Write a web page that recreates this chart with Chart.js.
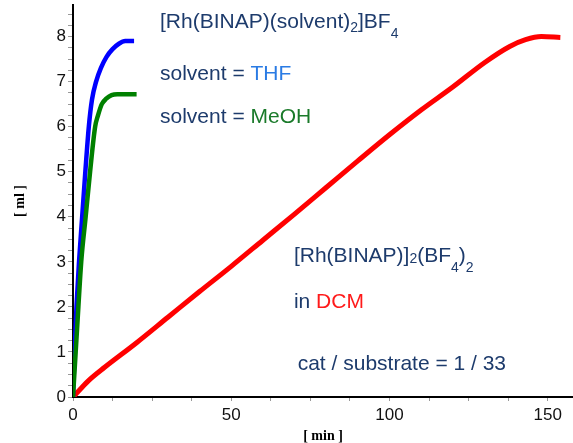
<!DOCTYPE html>
<html>
<head>
<meta charset="utf-8">
<script src="https://cdn.jsdelivr.net/npm/chart.js@4.4.1/dist/chart.umd.min.js"></script>
<style>
  html, body { margin: 0; padding: 0; background: #fff; }
  #wrap { width: 573px; height: 443px; }
</style>
</head>
<body>
<div id="wrap"><canvas id="uptake" width="573" height="443"></canvas></div>
<script>
// H2 uptake curves
const thfTime = [0, 0.5, 1.1, 1.9, 2.9, 3.9, 5.0, 6.0, 7.3, 8.8, 10.6, 12.5, 14.5, 16.5, 19.3];
const thfVol  = [0, 1.0, 2.0, 3.0, 4.0, 5.0, 6.0, 6.6, 7.0, 7.3, 7.55, 7.72, 7.84, 7.9, 7.9];

const meohTime = [0, 0.85, 1.7, 2.6, 4.0, 5.4, 7.0, 7.9, 9.1, 10.5, 12.2, 14.0, 20.1];
const meohVol  = [0, 1.0, 2.0, 3.0, 4.0, 5.0, 6.0, 6.25, 6.5, 6.62, 6.7, 6.72, 6.72];

const dcmTime = [0, 2, 5, 10, 20, 30, 40, 50, 60, 70, 80, 90, 100, 110, 120, 130, 138, 143, 148, 154];
const dcmVol  = [0, 0.15, 0.37, 0.66, 1.2, 1.77, 2.34, 2.9, 3.48, 4.06, 4.65, 5.24, 5.82, 6.37, 6.88, 7.42, 7.78, 7.93, 8.0, 7.98];

const xLabels = [0, 50, 100, 150];
const yLabels = [0, 1, 2, 3, 4, 5, 6, 7, 8];

const NAVY = '#1d3b6c';
const FONT = '"Liberation Sans", Arial, sans-serif';

function toPoints(xs, ys) {
    return xs.map((x, i) => ({ x, y: ys[i] }));
}

// text blocks, anchored in data units (min, ml)
const notes = [
    { x: 27.5, y: 8.18, runs: [
        { t: '[Rh(BINAP)(solvent)', c: NAVY },
        { t: '2', c: NAVY, s: 14, dy: 4 },
        { t: ']BF', c: NAVY },
        { t: '4', c: NAVY, s: 14, dy: 10 }
    ]},
    { x: 27.5, y: 7.04, runs: [{ t: 'solvent = ', c: NAVY }, { t: 'THF', c: '#2a7be4' }] },
    { x: 27.5, y: 6.08, runs: [{ t: 'solvent = ', c: NAVY }, { t: 'MeOH', c: '#1a7a2a' }] },
    { x: 69.8, y: 2.99, runs: [
        { t: '[Rh(BINAP)]', c: NAVY },
        { t: '2', c: NAVY, s: 14, dy: 1 },
        { t: '(BF', c: NAVY },
        { t: '4', c: NAVY, s: 14, dy: 10 },
        { t: ')', c: NAVY },
        { t: '2', c: NAVY, s: 14, dy: 10 }
    ]},
    { x: 69.8, y: 1.97, runs: [{ t: 'in ', c: NAVY }, { t: 'DCM', c: '#ff1a1a' }] },
    { x: 71.0, y: 0.59, runs: [{ t: 'cat / substrate = 1 / 33', c: NAVY }] }
];

const notesPlugin = {
    id: 'notes',
    afterDraw(chart) {
        const ctx = chart.ctx;
        const xs = chart.scales.x, ys = chart.scales.y;
        ctx.save();
        ctx.textBaseline = 'alphabetic';
        ctx.textAlign = 'left';
        notes.forEach(n => {
            let px = xs.getPixelForValue(n.x);
            const py = ys.getPixelForValue(n.y);
            n.runs.forEach(r => {
                ctx.font = `${r.s || 21}px ${FONT}`;
                ctx.fillStyle = r.c;
                ctx.fillText(r.t, px, py + (r.dy || 0));
                px += ctx.measureText(r.t).width;
            });
        });
        ctx.restore();
    }
};

new Chart(document.getElementById('uptake').getContext('2d'), {
    type: 'line',
    data: {
        datasets: [
            { label: 'THF', data: toPoints(thfTime, thfVol), borderColor: '#0000ff', borderWidth: 4.5, order: 1 },
            { label: 'MeOH', data: toPoints(meohTime, meohVol), borderColor: '#008000', borderWidth: 4.5, order: 0 },
            { label: 'DCM', data: toPoints(dcmTime, dcmVol), borderColor: '#ff0000', borderWidth: 5, order: 2 }
        ]
    },
    options: {
        responsive: false,
        animation: false,
        layout: { padding: { top: 5, right: 0, left: 0, bottom: 0 } },
        elements: {
            point: { radius: 0 },
            line: { cubicInterpolationMode: 'monotone', fill: false }
        },
        plugins: { legend: { display: false }, tooltip: { enabled: false } },
        scales: {
            x: {
                type: 'linear',
                min: 0,
                max: 158,
                afterFit: s => { s.height = 46; s.paddingLeft = 0; s.paddingRight = 0; },
                border: { color: '#000', width: 2 },
                grid: { drawOnChartArea: false, tickLength: 4, tickColor: '#999' },
                ticks: {
                    stepSize: 12.5,
                    includeBounds: false,
                    autoSkip: false,
                    maxRotation: 0,
                    padding: 4,
                    color: '#111',
                    font: { family: FONT, size: 17 },
                    callback: v => xLabels.includes(v) ? String(v) : ''
                },
                title: {
                    display: true,
                    text: '[ min ]',
                    color: '#000',
                    padding: 0,
                    font: { family: '"Liberation Serif", "Times New Roman", serif', size: 14, weight: 'bold', lineHeight: 1 }
                }
            },
            y: {
                min: 0,
                max: 8.7,
                afterFit: s => { s.width = 73; s.paddingTop = 0; s.paddingBottom = 0; },
                border: { color: '#000', width: 2 },
                grid: { drawOnChartArea: false, tickLength: 5, tickColor: '#999' },
                ticks: {
                    stepSize: 0.25,
                    includeBounds: false,
                    autoSkip: false,
                    padding: 2,
                    color: '#111',
                    font: { family: FONT, size: 17 },
                    callback: v => yLabels.includes(v) ? String(v) : ''
                },
                title: {
                    display: true,
                    text: '[ ml ]',
                    color: '#000',
                    padding: { top: 12, bottom: 0 },
                    font: { family: '"Liberation Serif", "Times New Roman", serif', size: 14, weight: 'bold' }
                }
            }
        }
    },
    plugins: [notesPlugin]
});
</script>
</body>
</html>
